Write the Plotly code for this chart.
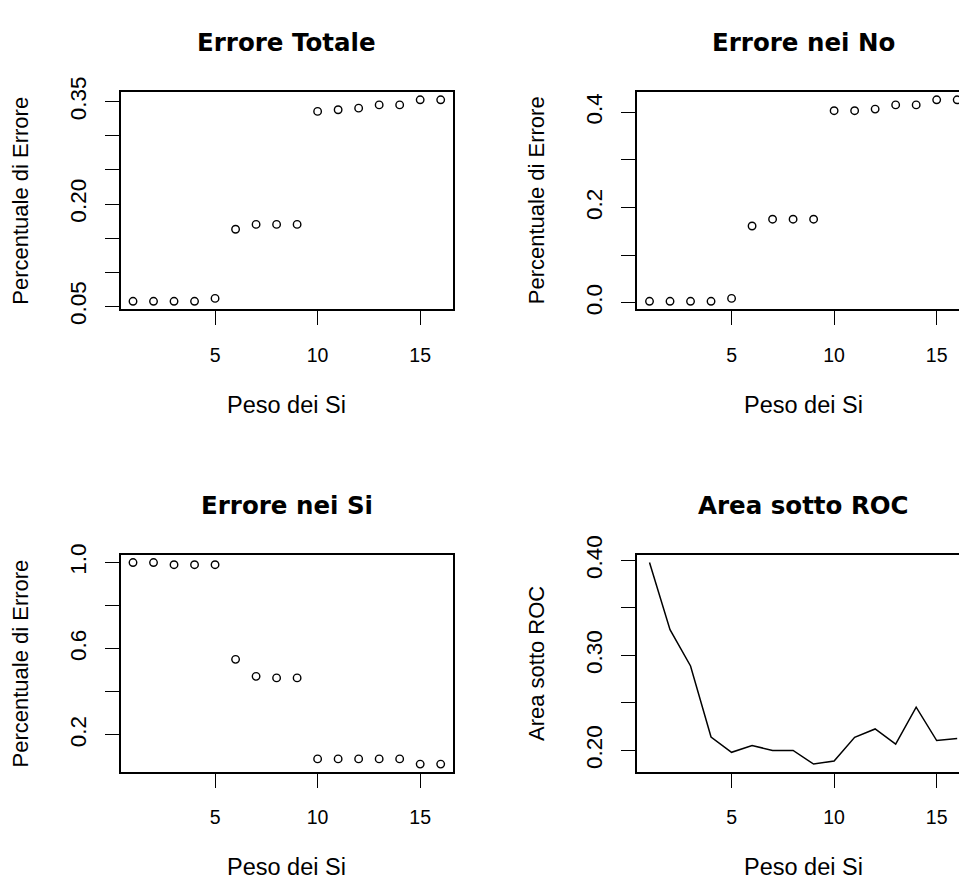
import plotly.graph_objects as go

# ---------------- data ----------------
peso_dei_si = [1, 2, 3, 4, 5, 6, 7, 8, 9, 10, 11, 12, 13, 14, 15, 16]
errore_totale = [0.0576, 0.0576, 0.0576, 0.0576, 0.0619, 0.1632, 0.1703, 0.1703,
                 0.1703, 0.3358, 0.3382, 0.3406, 0.3453, 0.3453, 0.3528, 0.3528]
errore_no = [0.0034, 0.0034, 0.0034, 0.0034, 0.0095, 0.1615, 0.1757, 0.1757,
             0.1757, 0.4034, 0.4034, 0.4068, 0.4156, 0.4156, 0.4263, 0.4263]
errore_si = [1.000, 1.000, 0.990, 0.990, 0.990, 0.551, 0.472, 0.465,
             0.465, 0.089, 0.089, 0.089, 0.089, 0.089, 0.065, 0.065]
area_roc = [0.3977, 0.3270, 0.2889, 0.2141, 0.1980, 0.2051, 0.2000, 0.2000,
            0.1856, 0.1889, 0.2138, 0.2226, 0.2067, 0.2455, 0.2104, 0.2125]

titles = ["Errore Totale", "Errore nei No", "Errore nei Si", "Area sotto ROC"]
ytitles = ["Percentuale di Errore", "Percentuale di Errore", "Percentuale di Errore", "Area sotto ROC"]
xtitle = "Peso dei Si"

x_tickvals = [5, 10, 15]
y_tickvals = [
    [0.05, 0.10, 0.15, 0.20, 0.25, 0.30, 0.35],
    [0.0, 0.1, 0.2, 0.3, 0.4],
    [0.2, 0.4, 0.6, 0.8, 1.0],
    [0.20, 0.25, 0.30, 0.35, 0.40],
]
y_ticktext = [
    ["0.05", "", "", "0.20", "", "", "0.35"],
    ["0.0", "", "0.2", "", "0.4"],
    ["0.2", "", "0.6", "", "1.0"],
    ["0.20", "", "0.30", "", "0.40"],
]

# ---------------- layout geometry ----------------
W, H = 959, 895
FONT = "Liberation Sans, Arial, Helvetica, sans-serif"
TFONT = "DejaVu Sans, Liberation Sans, Arial, sans-serif"
left_px = [120.7, 637.2]
panel_w = 332.3
top_px = [75.7, 557.3]
panel_h = 226.5


def r_range(vals):
    lo, hi = min(vals), max(vals)
    s = hi - lo
    return [lo - 0.04 * s, hi + 0.04 * s]


series = [errore_totale, errore_no, errore_si, area_roc]
modes = ["markers", "markers", "markers", "lines"]

fig = go.Figure()
annotations = []
xr_full = r_range(peso_dei_si)

for i in range(4):
    col = i % 2
    row = i // 2
    sfx = "" if i == 0 else str(i + 1)
    x0 = left_px[col]
    x1 = min(x0 + panel_w, W)
    y0 = top_px[row]
    y1 = y0 + panel_h
    xdom = [x0 / W, x1 / W]
    ydom = [1 - y1 / H, 1 - y0 / H]
    # the right column is cut at the window edge, as in the reference
    frac = (x1 - x0) / panel_w
    xr = [xr_full[0], xr_full[0] + (xr_full[1] - xr_full[0]) * frac]

    tr = dict(x=peso_dei_si, y=series[i], mode=modes[i], showlegend=False,
              xaxis="x" + sfx, yaxis="y" + sfx, cliponaxis=False, hoverinfo="x+y")
    if modes[i] == "markers":
        tr["marker"] = dict(symbol="circle-open", size=7.5, color="black",
                            line=dict(width=1.4, color="black"))
    else:
        tr["line"] = dict(color="black", width=1.5)
    fig.add_trace(go.Scatter(**tr))

    common = dict(showgrid=False, zeroline=False, showline=True, linecolor="black",
                  linewidth=1.5, ticks="outside", ticklen=14, tickwidth=1.3,
                  tickcolor="black")
    fig.layout["xaxis" + sfx] = dict(
        domain=xdom, anchor="y" + sfx, range=xr, tickmode="array",
        tickvals=x_tickvals, ticktext=[str(v) for v in x_tickvals],
        tickfont=dict(family=FONT, size=19.5, color="black"),
        mirror=True, ticklabelstandoff=13, **common)
    fig.layout["yaxis" + sfx] = dict(
        domain=ydom, anchor="x" + sfx, range=r_range(series[i]), tickmode="array",
        tickvals=y_tickvals[i], ticktext=y_ticktext[i], tickangle=-90,
        tickfont=dict(family=FONT, size=22.5, color="black"),
        mirror=(col == 0), ticklabelstandoff=10, **common)

    cx = (x0 + panel_w / 2) / W
    annotations.append(dict(text="<b>" + titles[i] + "</b>", x=cx, xref="paper",
                            y=1 - (y0 - 51) / H, yref="paper", showarrow=False,
                            xanchor="center", yanchor="middle",
                            font=dict(family=TFONT, size=24.5, color="black")))
    annotations.append(dict(text=xtitle, x=cx, xref="paper",
                            y=1 - (y1 + 99) / H, yref="paper", showarrow=False,
                            xanchor="center", yanchor="middle",
                            font=dict(family=FONT, size=23.5, color="black")))
    annotations.append(dict(text=ytitles[i], x=(x0 - 100.5) / W, xref="paper",
                            y=1 - (y0 + panel_h / 2) / H, yref="paper", showarrow=False,
                            textangle=-90, xanchor="center", yanchor="middle",
                            font=dict(family=FONT, size=22, color="black")))

fig.update_layout(width=W, height=H, margin=dict(l=0, r=0, t=0, b=0),
                  paper_bgcolor="white", plot_bgcolor="white",
                  annotations=annotations, font=dict(family=FONT, color="black"))

fig.write_html("out.html")
